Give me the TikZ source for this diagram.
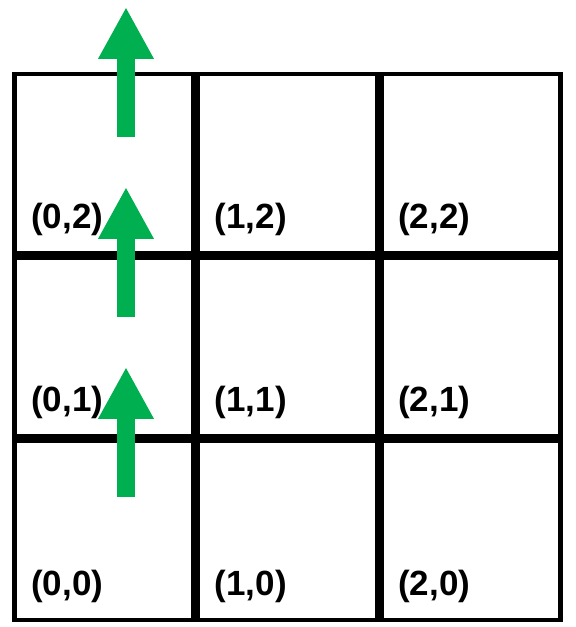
\documentclass[tikz,border=0pt]{standalone}
\usepackage{fontspec}
\setsansfont{Liberation Sans}
\usetikzlibrary{positioning,arrows.meta}
\definecolor{mvgreen}{RGB}{0,176,80}

\begin{document}
\begin{tikzpicture}[
    x=1pt, y=1pt,
    cell/.style={draw, line width=4.5pt, minimum size=179pt, inner sep=0pt},
    lbl/.style={font=\sffamily\bfseries\fontsize{35}{35}\selectfont, anchor=base west, inner sep=0pt},
    mv/.style={draw=mvgreen, line width=18pt, -{Triangle[length=52pt, width=52pt]}}
  ]
    \useasboundingbox (0,0) rectangle (576,627);
    % grid of cells
    \node[cell] (c02) at (103.75,463.25) {};
    \node[cell, right=0pt of c02] (c12) {};
    \node[cell, right=0pt of c12] (c22) {};
    \node[cell, below=0pt of c02] (c01) {};
    \node[cell, right=0pt of c01] (c11) {};
    \node[cell, right=0pt of c11] (c21) {};
    \node[cell, below=0pt of c01] (c00) {};
    \node[cell, right=0pt of c00] (c10) {};
    \node[cell, right=0pt of c10] (c20) {};
    % cell labels
    \node[lbl] (l02) at ([xshift=19pt, yshift=27pt]c02.south west) {(0,2)};
    \node[lbl] (l12) at ([xshift=19pt, yshift=27pt]c12.south west) {(1,2)};
    \node[lbl] (l22) at ([xshift=19pt, yshift=27pt]c22.south west) {(2,2)};
    \node[lbl] (l01) at ([xshift=19pt, yshift=27pt]c01.south west) {(0,1)};
    \node[lbl] (l11) at ([xshift=19pt, yshift=27pt]c11.south west) {(1,1)};
    \node[lbl] (l21) at ([xshift=19pt, yshift=27pt]c21.south west) {(2,1)};
    \node[lbl] (l00) at ([xshift=19pt, yshift=27pt]c00.south west) {(0,0)};
    \node[lbl] (l10) at ([xshift=19pt, yshift=27pt]c10.south west) {(1,0)};
    \node[lbl] (l20) at ([xshift=19pt, yshift=27pt]c20.south west) {(2,0)};
    % moves
    \coordinate (exit) at ([xshift=22.25pt, yshift=156.75pt]c02.center);
    \draw[mv] ([xshift=22.25pt, yshift=33.75pt]c00.center) -- ([xshift=22.25pt, yshift=-19.75pt]c01.center);
    \draw[mv] ([xshift=22.25pt, yshift=30.25pt]c01.center) -- ([xshift=22.25pt, yshift=-23.25pt]c02.center);
    \draw[mv] ([xshift=22.25pt, yshift=26.75pt]c02.center) -- (exit);
  \end{tikzpicture}
\end{document}
